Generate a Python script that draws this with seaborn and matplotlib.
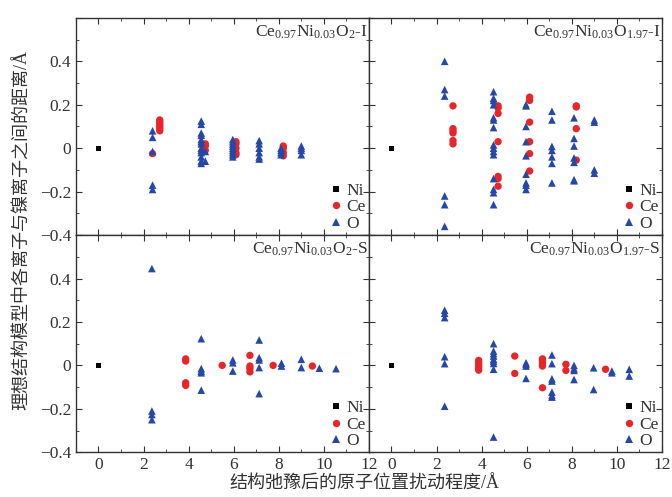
import pandas as pd
import seaborn as sns
import matplotlib.pyplot as plt
from matplotlib.ticker import MultipleLocator, FuncFormatter

# ---------- data: (x, [y values]) groups per species ----------
# Ce0.97Ni0.03O2-I
tl_ni = [(0.0, [0.0])]
tl_ce = [(2.4, [-0.025]), (2.72, [0.13, 0.12, 0.11, 0.10, 0.09, 0.08]),
         (4.74, [0.02, 0.01, -0.01]), (6.1, [0.03, 0.02, 0.0, -0.02, -0.03]),
         (8.2, [0.01, 0.0, -0.02, -0.035])]
tl_o = [(2.4, [0.08, 0.05, -0.015, -0.17, -0.19]),
        (4.56, [0.125, 0.11, 0.07, 0.06, 0.04, 0.03, 0.02, 0.0, -0.01, -0.02, -0.04, -0.06, -0.07]),
        (4.74, [-0.015, -0.06]),
        (5.96, [0.04, 0.03, 0.02, 0.01, 0.0, -0.01, -0.02, -0.03, -0.04]),
        (7.13, [0.035, 0.02, 0.0, -0.02, -0.04, -0.05]),
        (8.1, [0.0, -0.01, -0.02, -0.03]),
        (9.0, [0.01, 0.0, -0.01, -0.03])]

# Ce0.97Ni0.03O1.97-I
tr_ni = [(0.0, [0.0])]
tr_ce = [(2.73, [0.195, 0.09, 0.08, 0.07, 0.035, 0.02]),
         (4.73, [0.195, 0.185, 0.16, 0.03, -0.13, -0.14, -0.175]),
         (6.13, [0.235, 0.22, 0.12, 0.03, -0.025, -0.105]),
         (8.2, [0.195, 0.19, 0.09, -0.055])]
tr_o = [(2.36, [0.40, 0.27, 0.24, -0.22, -0.26, -0.36]),
        (4.53, [0.26, 0.23, 0.22, 0.2, 0.14, 0.13, 0.095, 0.015, 0.0, -0.015, -0.03,
                -0.14, -0.19, -0.205, -0.26]),
        (5.97, [0.2, 0.195, 0.1, 0.03, -0.035, -0.12, -0.16, -0.17, -0.19]),
        (7.12, [0.17, 0.13, 0.008, -0.01, -0.04, -0.07, -0.16]),
        (8.1, [0.14, 0.045, 0.01, -0.045, -0.065, -0.145, -0.15]),
        (9.0, [0.13, 0.12, -0.1, -0.115])]

# Ce0.97Ni0.03O2-S
bl_ni = [(0.0, [0.0])]
bl_ce = [(3.87, [0.03, 0.02, -0.08, -0.092]), (5.49, [0.0]),
         (6.72, [0.046, -0.003, -0.015, -0.03]), (7.75, [0.0]), (9.49, [-0.003])]
bl_o = [(2.37, [0.446, -0.21, -0.226, -0.25]),
        (4.56, [0.123, -0.015, -0.026, -0.034, -0.114]),
        (5.96, [0.025, 0.012, -0.026]),
        (7.13, [0.117, 0.035, 0.025, -0.01, -0.13]),
        (8.12, [0.01, -0.003]),
        (9.0, [0.028, -0.01]),
        (9.8, [-0.013]),
        (10.54, [-0.015])]

# Ce0.97Ni0.03O1.97-S
br_ni = [(0.0, [0.0])]
br_ce = [(3.87, [0.023, 0.012, 0.0, -0.011, -0.022]), (5.47, [0.043, -0.037]),
         (6.7, [0.03, 0.02, 0.009, -0.003, -0.103]), (7.74, [0.005, -0.023]),
         (9.5, [-0.018])]
br_o = [(2.36, [0.254, 0.24, 0.22, 0.04, 0.008, -0.188]),
        (4.53, [0.1, 0.066, 0.054, 0.043, 0.028, 0.02, 0.009, -0.018, -0.33]),
        (5.97, [0.012, 0.005, -0.003, -0.06]),
        (7.12, [0.048, 0.008, -0.062, -0.072, -0.123, -0.138, -0.146]),
        (8.1, [0.0, -0.015, -0.023, -0.065]),
        (8.97, [-0.011, -0.111]),
        (9.78, [-0.026, -0.034]),
        (10.55, [-0.018, -0.049])]

panel_titles = [r"Ce$_{\mathrm{0.97}}$Ni$_{\mathrm{0.03}}$O$_{\mathrm{2}}$-I",
                r"Ce$_{\mathrm{0.97}}$Ni$_{\mathrm{0.03}}$O$_{\mathrm{1.97}}$-I",
                r"Ce$_{\mathrm{0.97}}$Ni$_{\mathrm{0.03}}$O$_{\mathrm{2}}$-S",
                r"Ce$_{\mathrm{0.97}}$Ni$_{\mathrm{0.03}}$O$_{\mathrm{1.97}}$-S"]
panels = [(tl_ni, tl_ce, tl_o), (tr_ni, tr_ce, tr_o),
          (bl_ni, bl_ce, bl_o), (br_ni, br_ce, br_o)]


def to_frame(ni, ce, o):
    rows = []
    for name, groups in (("Ni", ni), ("Ce", ce), ("O", o)):
        for x, ys in groups:
            for y in ys:
                rows.append({"x": x, "y": y, "atom": name})
    return pd.DataFrame(rows)


sns.set_style("ticks")
plt.rcParams["font.family"] = ["Liberation Serif", "Noto Sans CJK SC"]
plt.rcParams["mathtext.fontset"] = "custom"
plt.rcParams["mathtext.rm"] = "Liberation Serif"
plt.rcParams["mathtext.it"] = "Liberation Serif:italic"

palette = {"Ni": "black", "Ce": "#e8262a", "O": "#2447a8"}
markers = {"Ni": "s", "Ce": "o", "O": "^"}
sizes = {"Ni": 14, "Ce": 28, "O": 30}
order = ["Ni", "Ce", "O"]
txt = "#333333"

fig, axes = plt.subplots(2, 2, figsize=(6.72, 4.97), sharex=True, sharey=True)
fig.subplots_adjust(left=0.113, right=0.985, top=0.964, bottom=0.09,
                    wspace=0, hspace=0)

fmt = FuncFormatter(lambda v, p: "0" if abs(v) < 1e-9 else f"{v:.1f}".replace("-", "\u2212"))

for i, ax in enumerate(axes.flat):
    df = to_frame(*panels[i])
    sns.scatterplot(data=df, x="x", y="y", hue="atom", style="atom", size="atom",
                    palette=palette, markers=markers, sizes=sizes,
                    hue_order=order, style_order=order, size_order=order,
                    linewidth=0, ax=ax)
    ax.set_xlim(-1, 12)
    ax.set_ylim(-0.4, 0.6)
    ax.xaxis.set_major_locator(MultipleLocator(2))
    ax.xaxis.set_minor_locator(MultipleLocator(1))
    ax.yaxis.set_major_locator(MultipleLocator(0.2))
    ax.yaxis.set_minor_locator(MultipleLocator(0.1))
    ax.yaxis.set_major_formatter(fmt)
    ax.tick_params(which="both", direction="in", top=True, right=True,
                   labelsize=12.5, colors=txt)
    ax.tick_params(which="major", length=4)
    ax.tick_params(which="minor", length=2.5)
    ax.set_xlabel("")
    ax.set_ylabel("")
    for sp in ax.spines.values():
        sp.set_color(txt)
        sp.set_linewidth(1.0)
    ax.text(0.995, 0.975, panel_titles[i], transform=ax.transAxes,
            ha="right", va="top", fontsize=12.5, color=txt)
    leg = ax.legend(loc="lower right", frameon=False, fontsize=12.5,
                    handletextpad=0.15, labelspacing=0.0, borderaxespad=0.0,
                    handlelength=0.9, borderpad=0.2)
    for t in leg.get_texts():
        t.set_color(txt)

# hide the 0.6 label on lower-left panel so it doesn't clash with -0.4 above
axes[1, 0].set_yticks([-0.4, -0.2, 0, 0.2, 0.4, 0.6])
axes[1, 0].set_yticklabels(["\u22120.4", "\u22120.2", "0", "0.2", "0.4", ""])

fig.text(0.033, 0.537, "理想结构模型中各离子与镍离子之间的距离/Å", rotation=90,
         ha="center", va="center", fontsize=13, color=txt)
fig.text(0.543, 0.026, "结构弛豫后的原子位置扰动程度/Å",
         ha="center", va="center", fontsize=13, color=txt)

plt.savefig("out.png", dpi=100)
